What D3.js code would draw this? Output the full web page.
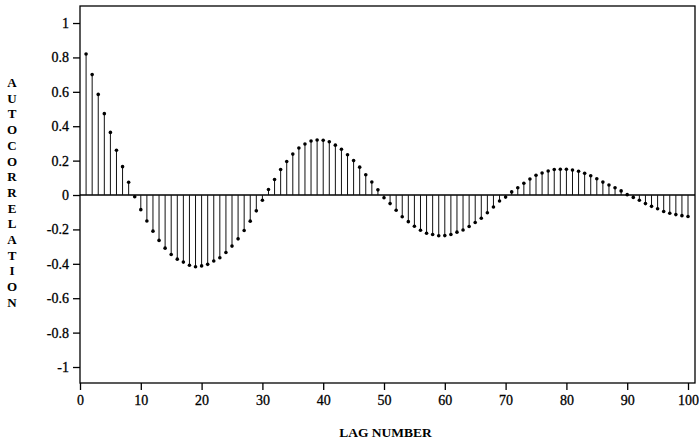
<!DOCTYPE html>
<html>
<head>
<meta charset="utf-8">
<script src="https://cdn.jsdelivr.net/npm/d3@7"></script>
<style>
  html, body { margin: 0; padding: 0; background: #fff; }
  svg { display: block; }
  text { font-family: "Liberation Serif", "DejaVu Serif", serif; fill: #000; }
</style>
</head>
<body>
<svg id="chart" width="699" height="442"></svg>
<script>
// Sample autocorrelation function, lags 1..100
const lags = d3.range(1, 101);
const acf = [
  0.82, 0.70, 0.585, 0.473, 0.364, 0.26, 0.165, 0.074, -0.01, -0.085,
  -0.151, -0.21, -0.264, -0.309, -0.346, -0.373, -0.39, -0.408, -0.417, -0.412,
  -0.403, -0.384, -0.365, -0.334, -0.297, -0.255, -0.206, -0.152, -0.092, -0.03,
  0.032, 0.09, 0.148, 0.195, 0.238, 0.273, 0.297, 0.314, 0.32, 0.318,
  0.31, 0.29, 0.266, 0.234, 0.2, 0.162, 0.118, 0.076, 0.03, -0.016,
  -0.05, -0.089, -0.126, -0.155, -0.182, -0.205, -0.222, -0.23, -0.237, -0.236,
  -0.23, -0.216, -0.203, -0.183, -0.16, -0.135, -0.103, -0.07, -0.035, -0.012,
  0.018, 0.042, 0.068, 0.093, 0.115, 0.128, 0.14, 0.148, 0.15, 0.15,
  0.145, 0.138, 0.126, 0.112, 0.095, 0.075, 0.058, 0.042, 0.024, 0.002,
  -0.014, -0.03, -0.05, -0.066, -0.08, -0.096, -0.106, -0.114, -0.12, -0.125
];
const xTicks = [0, 10, 20, 30, 40, 50, 60, 70, 80, 90, 100];
const yTicks = [1, 0.8, 0.6, 0.4, 0.2, 0, -0.2, -0.4, -0.6, -0.8, -1];
const yTitle = "AUTOCORRELATION";
const xTitle = "LAG NUMBER";

const svg = d3.select("#chart");
const plotLeft = 80, plotRight = 695, plotTop = 6, plotBottom = 383;

const x = d3.scaleLinear().domain([0, 101.15]).range([plotLeft, plotRight]);
const y = d3.scaleLinear().domain([-1.093, 1.099]).range([plotBottom, plotTop]);

// Frame
svg.append("rect")
  .attr("x", plotLeft).attr("y", plotTop)
  .attr("width", plotRight - plotLeft).attr("height", plotBottom - plotTop)
  .attr("fill", "none").attr("stroke", "#000").attr("stroke-width", 1.3);

// Axes
const fmt = d => (d === 0 ? "0" : String(d));
const xAxis = d3.axisBottom(x).tickValues(xTicks).tickSize(7).tickPadding(5).tickFormat(fmt);
const yAxis = d3.axisLeft(y).tickValues(yTicks).tickSize(7).tickPadding(4).tickFormat(fmt);

const gx = svg.append("g").attr("transform", `translate(0,${plotBottom})`).call(xAxis);
const gy = svg.append("g").attr("transform", `translate(${plotLeft},0)`).call(yAxis);
[gx, gy].forEach(g => {
  g.select(".domain").remove();
  g.selectAll(".tick line").attr("stroke", "#000").attr("stroke-width", 1.3);
  g.selectAll(".tick text")
    .style("font-family", '"Liberation Serif", serif')
    .style("font-size", "14px")
    .attr("fill", "#000")
    .attr("stroke", "#000").attr("stroke-width", 0.3);
});

// Zero reference line
svg.append("line")
  .attr("x1", plotLeft).attr("x2", plotRight)
  .attr("y1", y(0)).attr("y2", y(0))
  .attr("stroke", "#000").attr("stroke-width", 1.3);

// Stems
const pts = lags.map((l, i) => ({ lag: l, r: acf[i] }));
svg.append("g").selectAll("line").data(pts).join("line")
  .attr("x1", d => x(d.lag)).attr("x2", d => x(d.lag))
  .attr("y1", y(0)).attr("y2", d => y(d.r))
  .attr("stroke", "#111").attr("stroke-width", 1);

// Markers at stem tips
svg.append("g").selectAll("circle").data(pts).join("circle")
  .attr("cx", d => x(d.lag)).attr("cy", d => y(d.r))
  .attr("r", 1.8).attr("fill", "#000");

// Vertical stacked y-axis title
svg.append("g").selectAll("text").data(yTitle.split("")).join("text")
  .attr("x", 12).attr("y", (d, i) => 87 + i * 15.7)
  .attr("text-anchor", "middle")
  .style("font-size", "13px").style("font-weight", "bold")
  .text(d => d);

// X-axis title
svg.append("text")
  .attr("x", (plotLeft + plotRight) / 2 - 2).attr("y", 437)
  .attr("text-anchor", "middle")
  .style("font-size", "13.5px").style("font-weight", "bold")
  .text(xTitle);
</script>
</body>
</html>
